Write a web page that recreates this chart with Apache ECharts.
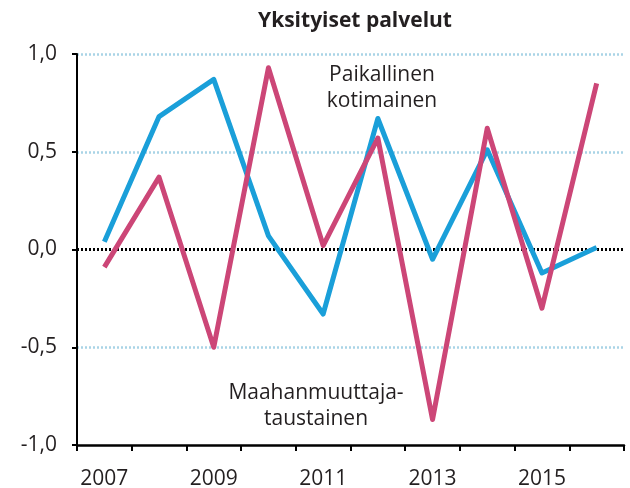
<!DOCTYPE html>
<html>
<head>
<meta charset="utf-8">
<script src="https://cdn.jsdelivr.net/npm/echarts@6/dist/echarts.min.js"></script>
<style>
  html, body { margin: 0; padding: 0; background: #fff; }
  #chart { width: 630px; height: 488px; }
</style>
</head>
<body>
<div id="chart"></div>
<script>
const years = ["2007", "2008", "2009", "2010", "2011", "2012", "2013", "2014", "2015", "2016"];
// Paikallinen kotimainen
const paikallinen = [0.04, 0.68, 0.87, 0.07, -0.33, 0.67, -0.05, 0.51, -0.12, 0.01];
// Maahanmuuttajataustainen
const maahanmuuttaja = [-0.09, 0.37, -0.50, 0.93, 0.02, 0.57, -0.87, 0.62, -0.30, 0.85];

const font = "Open Sans";
const textColor = "#231f20";

const chart = echarts.init(document.getElementById("chart"));
chart.setOption({
  animation: false,
  title: {
    text: "Yksityiset palvelut",
    left: 350,
    textAlign: "center",
    top: 6,
    textStyle: { fontFamily: font, fontSize: 21, fontWeight: "bold", color: textColor },
  },
  grid: { left: 77, right: 6, top: 54, bottom: 43, containLabel: false, outerBoundsMode: "none" },
  xAxis: {
    type: "category",
    data: years,
    boundaryGap: true,
    axisLine: { show: true, onZero: false, lineStyle: { color: "#000", width: 2.5 } },
    axisTick: { show: true, interval: 0, length: 6, lineStyle: { color: "#000", width: 2 } },
    axisLabel: { interval: 1, margin: 24, fontFamily: font, fontSize: 21, color: textColor },
  },
  yAxis: {
    type: "value",
    min: -1,
    max: 1,
    interval: 0.5,
    axisLine: { show: true, lineStyle: { color: "#000", width: 2 } },
    axisTick: { show: true, length: 5, lineStyle: { color: "#000", width: 2 } },
    axisLabel: {
      margin: 20,
      fontFamily: font,
      fontSize: 21,
      color: textColor,
      formatter: (v) => v.toFixed(1).replace(".", ","),
    },
    splitLine: {
      show: true,
      lineStyle: {
        color: ["rgba(0,0,0,0)", "#a9d4e6", "rgba(0,0,0,0)", "#a9d4e6", "#a9d4e6"],
        type: [2, 2],
        width: 2.5,
      },
    },
  },
  series: [
    {
      name: "Paikallinen kotimainen",
      type: "line",
      data: paikallinen,
      symbol: "none",
      lineStyle: { color: "#1a9fd9", width: 5, join: "round" },
      z: 3,
      markLine: {
        silent: true,
        symbol: "none",
        label: { show: false },
        lineStyle: { color: "#000", type: [2, 2], width: 3 },
        data: [{ yAxis: 0 }],
        z: 2,
      },
    },
    {
      name: "Maahanmuuttajataustainen",
      type: "line",
      data: maahanmuuttaja,
      symbol: "none",
      lineStyle: { color: "#cc4677", width: 5, join: "round" },
      z: 4,
    },
  ],
  graphic: [
    {
      type: "text",
      x: 382, y: 62,
      style: {
        text: "Paikallinen\nkotimainen",
        align: "center",
        fontFamily: font, fontSize: 21, lineHeight: 26, fill: textColor,
      },
    },
    {
      type: "text",
      x: 316, y: 380,
      style: {
        text: "Maahanmuuttaja-\ntaustainen",
        align: "center",
        fontFamily: font, fontSize: 21, lineHeight: 26, fill: textColor,
      },
    },
  ],
});
</script>
</body>
</html>
